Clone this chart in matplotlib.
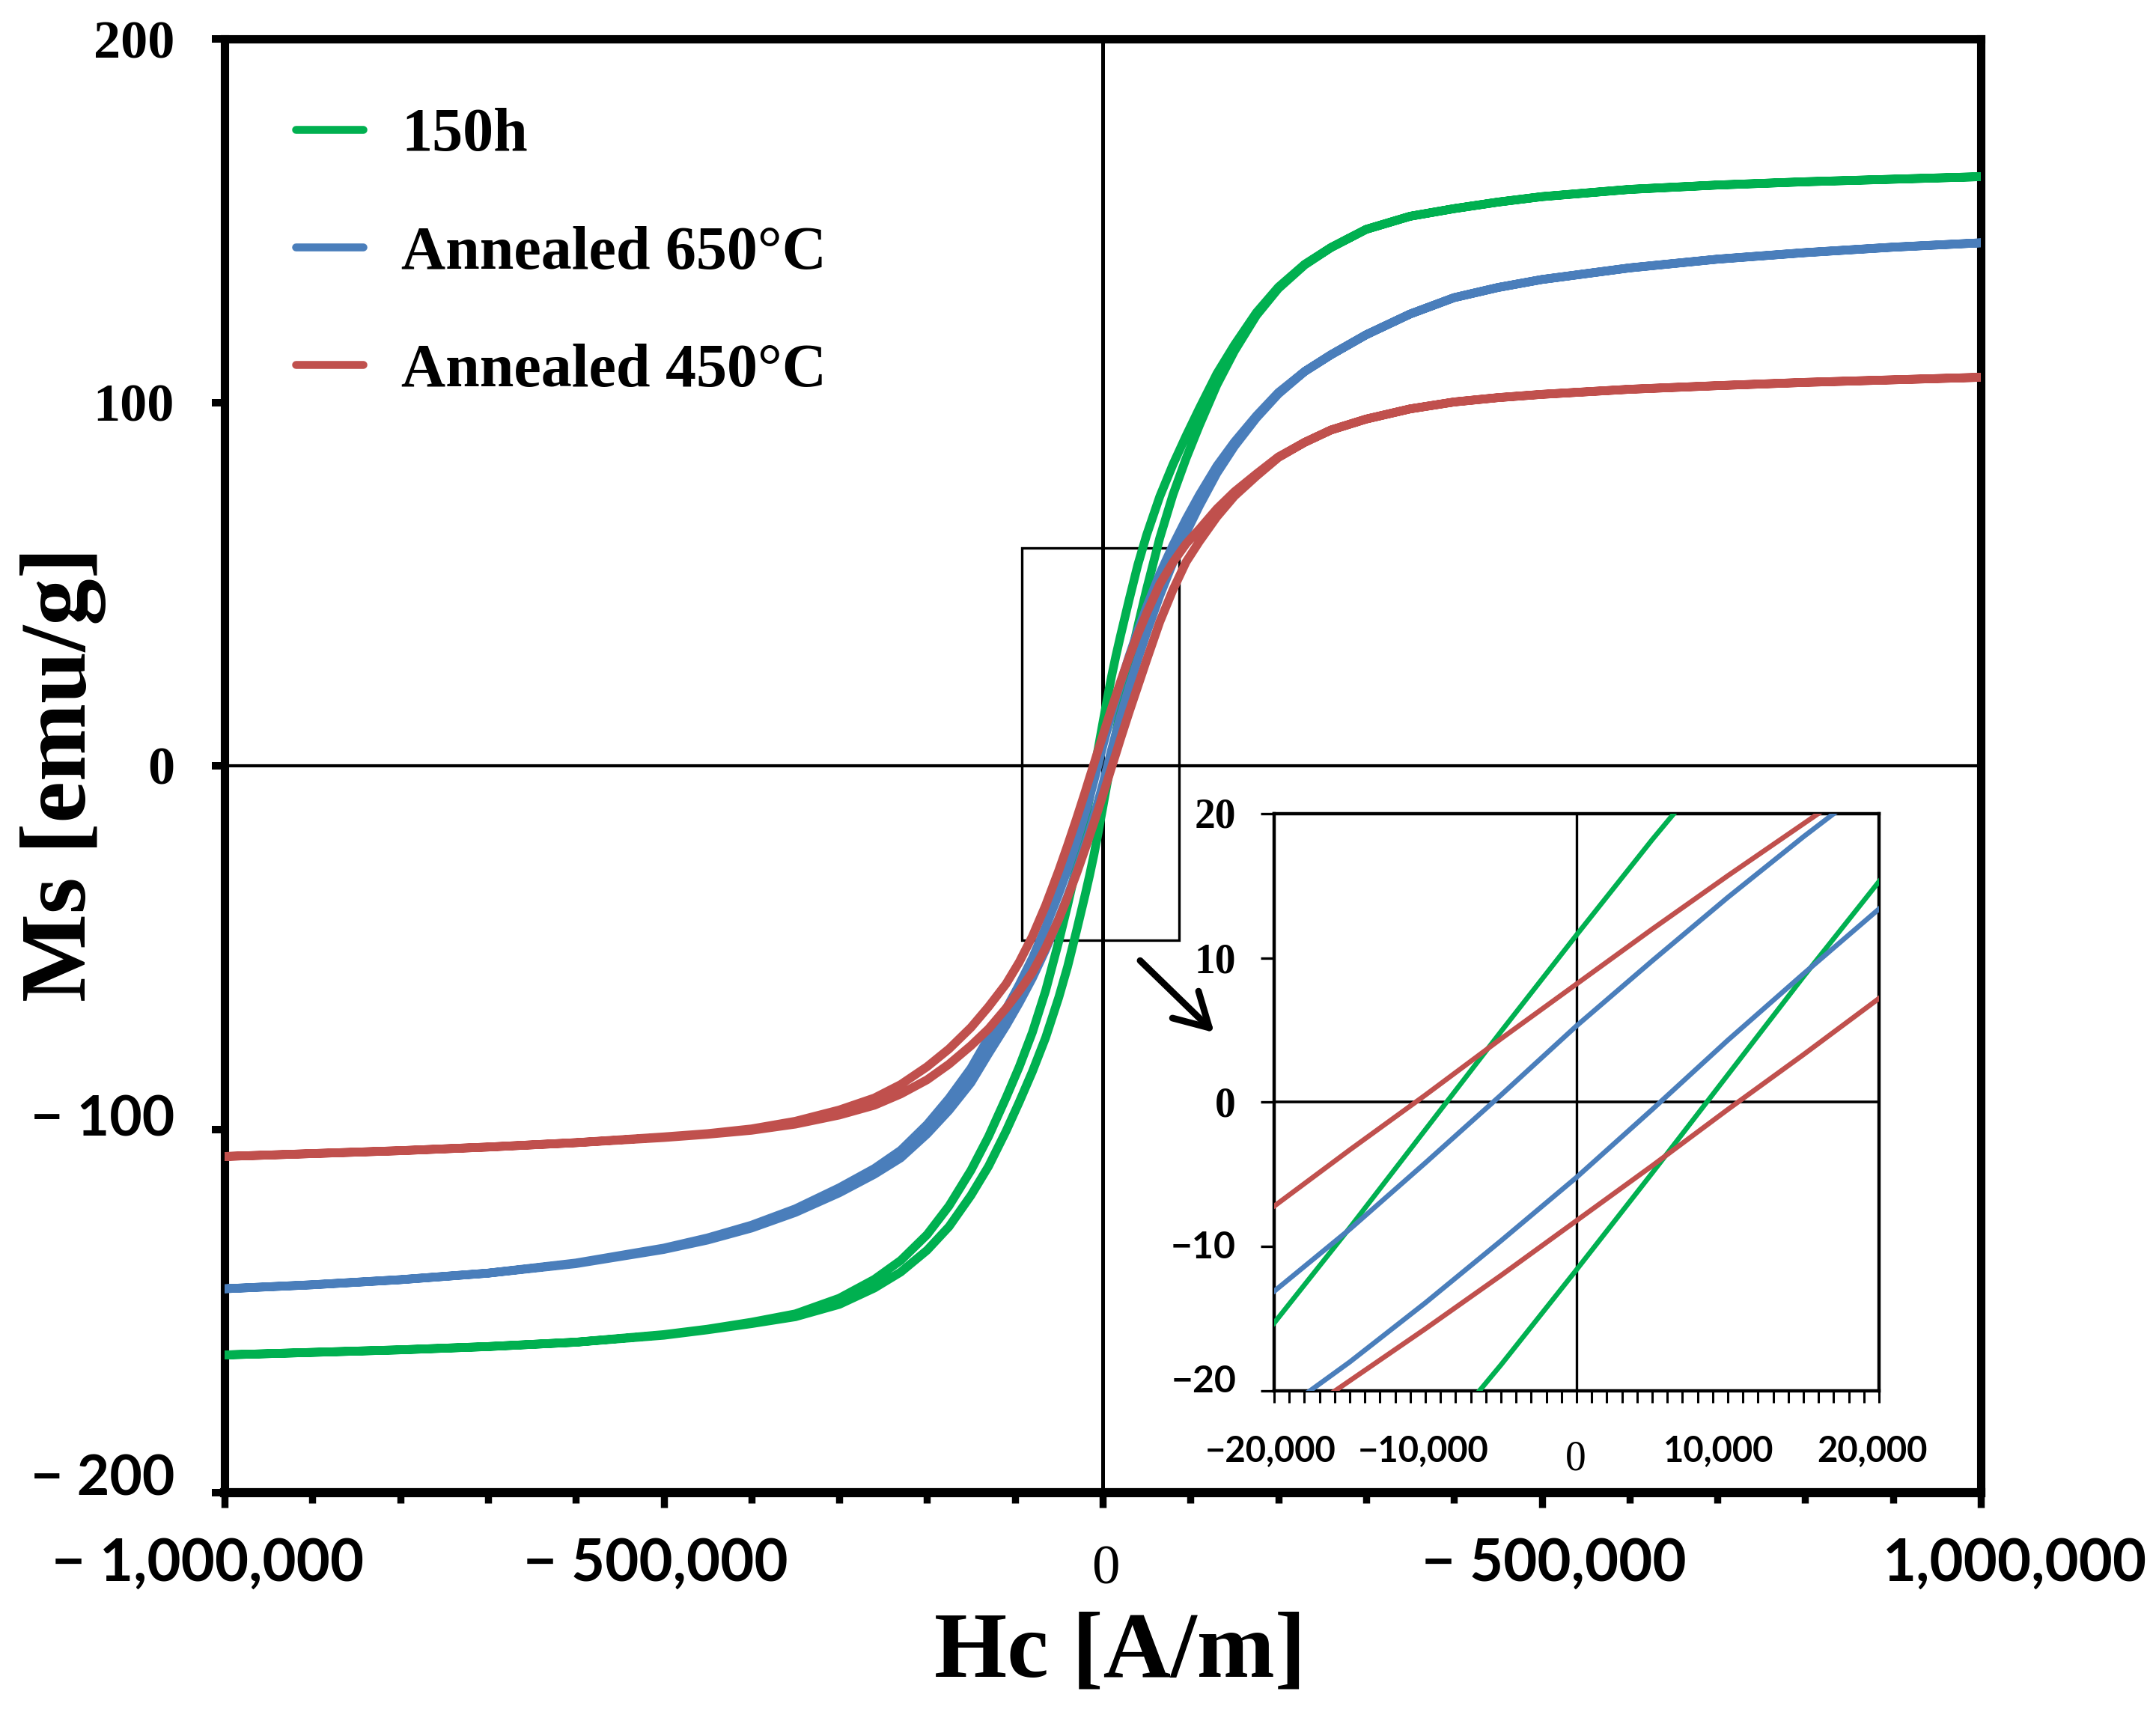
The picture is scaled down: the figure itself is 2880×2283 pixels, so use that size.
import numpy as np
import matplotlib
matplotlib.use("Agg")
import matplotlib.pyplot as plt
import matplotlib.transforms as mtransforms
from matplotlib.patches import Rectangle
from matplotlib.lines import Line2D
from matplotlib.font_manager import FontProperties

# ---------------- data ----------------
series_names = ["150h", "Annealed 650°C", "Annealed 450°C"]
series_colors = ["#00B050", "#4A7EBB", "#C0504D"]

# applied field H [A/m]
H_field = [-1000000, -900000, -800000, -700000, -600000, -500000, -450000, -400000,
           -350000, -300000, -260000, -230000, -200000, -175000, -150000, -130000,
           -110000, -95000, -80000, -65000, -50000, -40000, -30000, -20000, -15000,
           -10000, -5000, 0, 5000, 10000, 15000, 20000, 30000, 40000, 50000, 65000,
           80000, 95000, 110000, 130000, 150000, 175000, 200000, 230000, 260000,
           300000, 350000, 400000, 450000, 500000, 600000, 700000, 800000, 900000,
           1000000]

# 150h : descending (upper) and ascending (lower) branches, Ms [emu/g]
green_desc = [-162.1, -161.4, -160.7, -159.8, -158.6, -156.5, -155.0, -153.1, -150.8,
              -146.5, -141.3, -136.1, -129.0, -121.1, -111.3, -102.0, -91.3, -82.8,
              -73.3, -61.9, -48.3, -38.4, -27.8, -15.3, -8.7, -1.9, 4.9, 11.6, 18.2,
              24.5, 30.2, 35.5, 45.6, 55.3, 63.5, 74.1, 82.9, 90.8, 98.3, 107.9,
              115.8, 124.7, 131.7, 138.0, 142.6, 147.6, 151.2, 153.3, 155.1, 156.6,
              158.6, 159.8, 160.7, 161.4, 162.1]
green_asc = [-162.1, -161.4, -160.7, -159.8, -158.6, -156.7, -155.2, -153.5, -151.6,
             -148.2, -143.7, -139.3, -133.3, -126.8, -118.2, -110.2, -100.5, -92.5,
             -84.1, -74.8, -63.7, -55.3, -45.6, -35.5, -30.2, -24.5, -18.2, -11.6, -4.9,
             1.9, 8.7, 15.3, 27.8, 38.4, 48.6, 62.7, 74.6, 84.6, 93.6, 104.8,
             114.1, 123.9, 131.3, 137.8, 142.6, 147.6, 151.2, 153.3, 155.1, 156.6,
             158.6, 159.8, 160.7, 161.4, 162.1]

# Annealed 650°C
blue_desc = [-143.9, -142.8, -141.4, -139.6, -136.8, -132.7, -129.9, -126.4, -121.9,
             -116.1, -110.8, -105.8, -98.7, -91.5, -83.2, -74.8, -66.9, -60.2,
             -52.9, -44.4, -35.2, -28.5, -21.1, -13.1, -8.8, -4.2, 0.5, 5.3, 9.8,
             14.2, 18.4, 22.4, 30.1, 37.2, 43.7, 52.8, 60.7, 67.9, 74.5, 82.5,
             89.1, 96.3, 102.7, 108.5, 113.1, 118.6, 124.3, 128.8, 131.6, 133.8,
             137.0, 139.4, 141.2, 142.7, 143.9]
blue_asc = [-143.9, -142.8, -141.4, -139.6, -137.0, -133.1, -130.5, -127.2, -122.9,
            -117.5, -112.4, -107.9, -101.3, -94.8, -87.2, -79.2, -71.5, -65.2,
            -58.4, -50.6, -42.0, -35.9, -29.2, -21.8, -18.0, -13.9, -9.6, -5.2, -0.5,
            4.3, 8.9, 13.4, 21.6, 29.3, 36.6, 46.8, 55.9, 64.1, 71.5, 80.5,
            87.9, 95.7, 102.3, 108.5, 113.1, 118.6, 124.3, 128.8, 131.6, 133.8,
            137.0, 139.4, 141.2, 142.7, 143.9]

# Annealed 450°C
red_desc = [-107.5, -106.7, -105.9, -104.9, -103.7, -102.1, -101.2, -99.9, -97.8,
            -94.7, -91.4, -87.7, -82.8, -77.9, -72.0, -66.3, -60.0, -54.0,
            -46.9, -38.4, -28.8, -21.9, -14.7, -7.2, -3.3, 0.5, 4.4, 8.2, 12.0,
            15.7, 19.3, 22.9, 29.8, 36.2, 42.0, 50.0, 56.0, 61.1, 65.1, 70.7,
            75.4, 80.3, 85.0, 89.0, 92.4, 95.4, 98.2, 100.1, 101.3, 102.2,
            103.6, 104.6, 105.5, 106.2, 106.9]
red_asc = [-107.5, -106.7, -105.9, -104.9, -103.7, -102.3, -101.4, -100.3, -98.6,
           -96.1, -93.4, -90.3, -86.4, -82.1, -77.0, -72.4, -66.7, -62.0,
           -56.8, -50.1, -42.2, -36.2, -29.8, -22.9, -19.3, -15.7, -12.0, -8.2, -4.4,
           -0.5, 3.3, 7.2, 14.7, 21.9, 29.1, 39.6, 48.4, 56.1, 61.7, 68.5,
           74.2, 79.7, 84.8, 89.0, 92.4, 95.4, 98.2, 100.1, 101.3, 102.2,
           103.6, 104.6, 105.5, 106.2, 106.9]

branches = [(green_desc, green_asc), (blue_desc, blue_asc), (red_desc, red_asc)]

# tick labels (as printed in the figure)
main_x_ticks = [-1000000, -500000, 0, 500000, 1000000]
main_x_labels = ["− 1,000,000", "− 500,000", "0", "− 500,000", "1,000,000"]
main_y_ticks = [200, 100, 0, -100, -200]
main_y_labels = ["200", "100", "0", "− 100", "− 200"]
inset_x_ticks = [-20000, -10000, 0, 10000, 20000]
inset_x_labels = ["−20,000", "−10,000", "0", "10,000", "20,000"]
inset_y_ticks = [20, 10, 0, -10, -20]
inset_y_labels = ["20", "10", "0", "−10", "−20"]

# zoom window marked on the main plot
zoom_box_x = [-92000, 87000]
zoom_box_y = [-48, 60]

# ---------------- figure ----------------
W, HP = 2880, 2283
DPI = 200
fig = plt.figure(figsize=(W / DPI, HP / DPI), dpi=DPI)
fig.patch.set_facecolor("white")

SERIF = ["Liberation Serif", "DejaVu Serif"]
SANS = ["Lato", "DejaVu Sans"]

def fp(fam, size, weight="bold"):
    return FontProperties(family=fam, size=size, weight=weight)

ax = fig.add_axes([300 / W, 1 - 1994 / HP, 2346 / W, 1942 / HP])
ax.set_xlim(-1000000, 1000000)
ax.set_ylim(-200, 200)

for name, color, (desc, asc) in zip(series_names, series_colors, branches):
    loop_H = H_field[::-1] + H_field
    loop_M = desc[::-1] + asc
    ax.plot(loop_H, loop_M, color=color, lw=4.2, zorder=3, label=name,
            solid_joinstyle="round")

ax.axhline(0, color="black", lw=1.5, zorder=2)
ax.axvline(0, color="black", lw=1.8, zorder=2)
ax.add_patch(Rectangle((zoom_box_x[0], zoom_box_y[0]),
                       zoom_box_x[1] - zoom_box_x[0], zoom_box_y[1] - zoom_box_y[0],
                       fill=False, ec="black", lw=1.2, zorder=2.5))

for s in ax.spines.values():
    s.set_linewidth(4.0)
    s.set_color("black")
ax.spines["bottom"].set_linewidth(4.4)

ax.set_xticks(main_x_ticks)
ax.set_xticks(np.arange(-1000000, 1000001, 100000), minor=True)
ax.tick_params(axis="x", which="major", direction="out", length=7.2, width=3.4,
               labelbottom=False, color="black")
ax.tick_params(axis="x", which="minor", direction="out", length=5.2, width=3.4,
               color="black")
ax.set_yticks(main_y_ticks)
ax.tick_params(axis="y", which="major", direction="out", length=6.0, width=3.6,
               labelleft=False, color="black")

# y tick labels (serif for positive, sans for negative, as in the original)
ytrans = mtransforms.blended_transform_factory(fig.transFigure, ax.transData)
y_dy = [-25, -25, -24, -9, -4]
for val, lab, dy in zip(main_y_ticks, main_y_labels, y_dy):
    if lab.startswith("−"):
        prop = fp(SANS, 27)
    else:
        prop = fp(SERIF, 26)
    t = mtransforms.offset_copy(ytrans, fig=fig, x=0, y=dy, units="dots")
    ax.text(233 / W, val, lab, transform=t, ha="right", va="baseline",
            fontproperties=prop, color="black", clip_on=False)

# x tick labels
xtrans = mtransforms.blended_transform_factory(ax.transData, fig.transFigure)
x_dx = [-22, -11, 4, 16, 45]
for val, lab, dx in zip(main_x_ticks, main_x_labels, x_dx):
    if lab == "0":
        prop = fp(SERIF, 27, "normal")
        yb = 1 - 2116 / HP
    else:
        prop = fp(SANS, 28)
        yb = 1 - 2112 / HP
    t = mtransforms.offset_copy(xtrans, fig=fig, x=dx, y=0, units="dots")
    ax.text(val, yb, lab, transform=t, ha="center", va="baseline",
            fontproperties=prop, color="black", clip_on=False)

# axis labels
ax.set_xlabel("Hc [A/m]", fontproperties=fp(SERIF, 45))
ax.xaxis.set_label_coords((1496 - 300) / 2346, -(2240 - 1994) / 1942)
ax.xaxis.label.set_va("baseline")
ax.set_ylabel("Ms [emu/g]", fontproperties=fp(SERIF, 45))
ax.yaxis.set_label_coords((85 - 300) / 2346, (1994 - 1034) / 1942)
ax.yaxis.label.set_va("center")

# legend
handles = [Line2D([0], [0], color=c, lw=3.8, solid_capstyle="round") for c in series_colors]
ax.legend(handles, series_names, loc="upper left", bbox_to_anchor=(0.0405, 0.9526),
          frameon=False, prop=fp(SERIF, 29.5), handlelength=1.1, handletextpad=0.62,
          labelspacing=1.0, borderpad=0, borderaxespad=0)

# arrow pointing to inset
ax.annotate("", xy=(127000, -73.4), xytext=(42600, -53.6),
            arrowprops=dict(arrowstyle="->,head_length=0.8,head_width=0.45",
                            lw=3.2, color="black", mutation_scale=20,
                            shrinkA=0, shrinkB=0), zorder=5)

# ---------------- inset ----------------
axin = fig.add_axes([1702 / W, 1 - 1858 / HP, 808 / W, 771 / HP])
axin.set_facecolor("white")
axin.set_xlim(-20000, 20000)
axin.set_ylim(-20, 20)
for color, (desc, asc) in zip(series_colors, branches):
    axin.plot(H_field, desc, color=color, lw=2.4, zorder=3)
    axin.plot(H_field, asc, color=color, lw=2.4, zorder=3)
axin.axhline(0, color="black", lw=1.3, zorder=2)
axin.axvline(0, color="black", lw=1.2, zorder=2)
for s in axin.spines.values():
    s.set_linewidth(1.6)
    s.set_color("black")
axin.set_xticks(inset_x_ticks)
axin.set_xticks(np.arange(-20000, 20001, 1000), minor=True)
axin.tick_params(axis="x", which="both", direction="out", length=5.6, width=1.1,
                 labelbottom=False)
axin.set_yticks(inset_y_ticks)
axin.tick_params(axis="y", which="major", direction="out", length=6.5, width=1.2,
                 labelleft=False)

iytrans = mtransforms.blended_transform_factory(fig.transFigure, axin.transData)
iy_dy = [-19, -20, -19, -16, -2]
for val, lab, dy in zip(inset_y_ticks, inset_y_labels, iy_dy):
    if lab.startswith("−"):
        prop = fp(SANS, 18)
    else:
        prop = fp(SERIF, 20)
    t = mtransforms.offset_copy(iytrans, fig=fig, x=0, y=dy, units="dots")
    axin.text(1651 / W, val, lab, transform=t, ha="right", va="baseline",
              fontproperties=prop, color="black", clip_on=False)

ixtrans = mtransforms.blended_transform_factory(axin.transData, fig.transFigure)
ix_dx = [-5, -3, -1, -12, -9]
for val, lab, dx in zip(inset_x_ticks, inset_x_labels, ix_dx):
    if lab == "0":
        prop = fp(SERIF, 20, "normal")
        yb = 1 - 1964 / HP
    else:
        prop = fp(SANS, 17)
        yb = 1 - 1952 / HP
    t = mtransforms.offset_copy(ixtrans, fig=fig, x=dx, y=0, units="dots")
    axin.text(val, yb, lab, transform=t, ha="center", va="baseline",
              fontproperties=prop, color="black", clip_on=False)

fig.savefig("out.png", dpi=DPI, facecolor="white")
